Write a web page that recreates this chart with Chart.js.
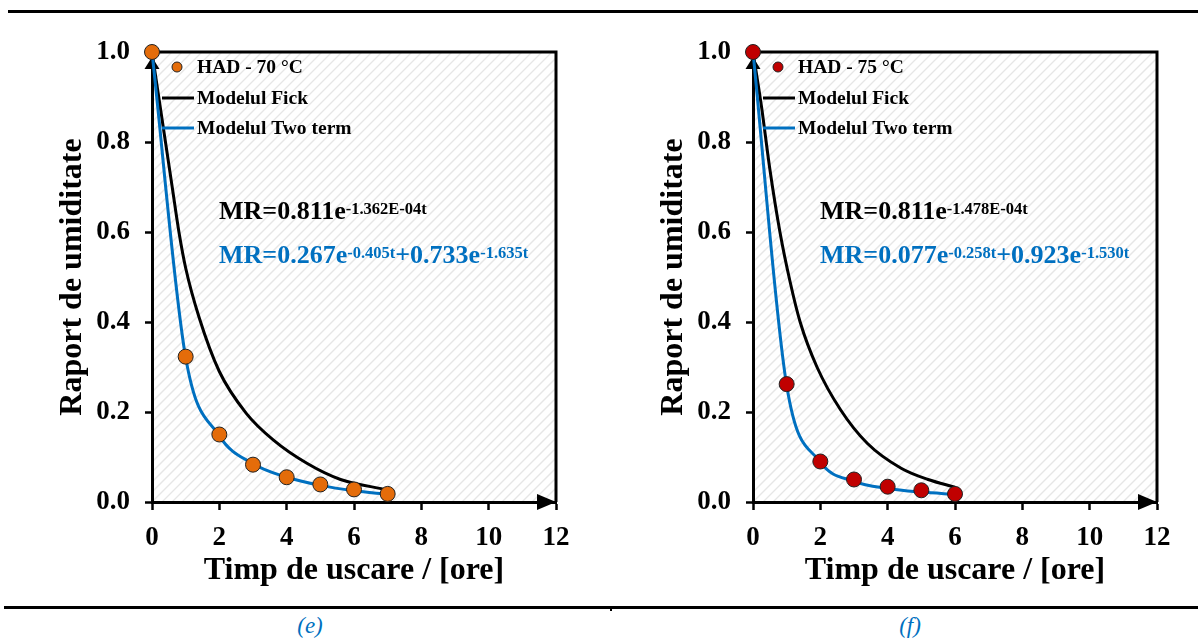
<!DOCTYPE html>
<html>
<head>
<meta charset="utf-8">
<script src="https://cdn.jsdelivr.net/npm/chart.js@4.4.1/dist/chart.umd.min.js"></script>
<style>
  body { margin: 0; background: #fff; width: 1198px; height: 644px; position: relative; overflow: hidden;
         font-family: 'Liberation Serif', 'Times New Roman', serif; }
  .rule { position: absolute; background: #000; }
  .box { position: absolute; top: 0; width: 600px; height: 600px; }
  .cap { position: absolute; top: 613px; width: 60px; text-align: center; font-style: italic;
         font-size: 23px; color: #0070C0; }
</style>
</head>
<body>
<div class="rule" style="left:8px;top:10px;width:1190px;height:3px"></div>
<div class="rule" style="left:4px;top:606px;width:1194px;height:3px"></div>
<div class="rule" style="left:610px;top:609px;width:2px;height:2px"></div>
<div class="box" style="left:0"><canvas id="chartE" width="600" height="600"></canvas></div>
<div class="box" style="left:601px"><canvas id="chartF" width="600" height="600"></canvas></div>
<div class="cap" style="left:280px">(e)</div>
<div class="cap" style="left:880px">(f)</div>
<script>
const SERIF = "'Liberation Serif', 'Times New Roman', serif";
const BLUE = '#0070C0';

// (e) HAD - 70 °C
const hoursE = [0, 1, 2, 3, 4, 5, 6, 7];
const hadE = [1.0, 0.323, 0.150, 0.083, 0.055, 0.039, 0.028, 0.018];
const twoTermE = [1.0, 0.321, 0.147, 0.085, 0.055, 0.037, 0.025, 0.017];
const fickTimeE = [0, 0.4, 0.6, 0.8, 1.0, 1.4, 2.0, 2.8, 3.6, 4.6, 5.6, 7.0];
const fickE = [1.0, 0.80, 0.70, 0.60, 0.52, 0.41, 0.29, 0.197, 0.138, 0.086, 0.050, 0.027];

// (f) HAD - 75 °C
const hoursF = [0, 1, 2, 3, 4, 5, 6];
const hadF = [1.0, 0.262, 0.090, 0.050, 0.034, 0.026, 0.018];
const twoTermF = [1.0, 0.259, 0.089, 0.046, 0.030, 0.022, 0.017];
const fickTimeF = [0, 0.25, 0.5, 0.8, 1.1, 1.4, 1.9, 2.6, 3.4, 4.4, 5.2, 6.0];
const fickF = [1.0, 0.88, 0.74, 0.60, 0.49, 0.40, 0.30, 0.205, 0.130, 0.075, 0.050, 0.033];

const fickEqE = [['MR=0.811e', false], ['-1.362E-04t', true]];
const twoEqE = [['MR=0.267e', false], ['-0.405t', true], ['+0.733e', false], ['-1.635t', true]];
const fickEqF = [['MR=0.811e', false], ['-1.478E-04t', true]];
const twoEqF = [['MR=0.077e', false], ['-0.258t', true], ['+0.923e', false], ['-1.530t', true]];

function xy(ts, vs) {
  return ts.map((t, i) => ({x: t, y: vs[i]}));
}

// light diagonal stripes behind the plot
const hatch = {
  id: 'hatch',
  beforeDraw(chart) {
    const {ctx, chartArea: a} = chart;
    ctx.save();
    ctx.beginPath();
    ctx.rect(a.left, a.top, a.right - a.left, a.bottom - a.top);
    ctx.clip();
    ctx.strokeStyle = '#e6e6e6';
    ctx.lineWidth = 1.3;
    const h = a.bottom - a.top;
    for (let k = -h; k < a.right - a.left; k += 10) {
      ctx.beginPath();
      ctx.moveTo(a.left + k, a.bottom);
      ctx.lineTo(a.left + k + h, a.top);
      ctx.stroke();
    }
    ctx.restore();
  }
};

// top/right border and the arrow heads
const frame = {
  id: 'frame',
  beforeDatasetsDraw(chart) {
    const {ctx, chartArea: a} = chart;
    ctx.save();
    ctx.strokeStyle = '#000';
    ctx.lineWidth = 3;
    ctx.beginPath();
    ctx.moveTo(a.left - 1.5, a.top);
    ctx.lineTo(a.right, a.top);
    ctx.lineTo(a.right, a.bottom);
    ctx.stroke();
    ctx.fillStyle = '#000';
    ctx.beginPath();
    ctx.moveTo(a.left, a.top + 5);
    ctx.lineTo(a.left - 7.5, a.top + 17);
    ctx.lineTo(a.left + 7.5, a.top + 17);
    ctx.closePath();
    ctx.fill();
    ctx.beginPath();
    ctx.moveTo(a.right, a.bottom);
    ctx.lineTo(a.right - 19, a.bottom - 8);
    ctx.lineTo(a.right - 19, a.bottom + 8);
    ctx.closePath();
    ctx.fill();
    ctx.restore();
  }
};

function drawEquation(ctx, x, y, parts, color) {
  let cx = x;
  ctx.fillStyle = color;
  ctx.textAlign = 'left';
  ctx.textBaseline = 'alphabetic';
  parts.forEach(([txt, sup]) => {
    ctx.font = sup ? `bold 16.5px ${SERIF}` : `bold 26px ${SERIF}`;
    ctx.fillText(txt, cx, sup ? y - 5 : y);
    cx += ctx.measureText(txt).width;
  });
}

// legend entries and the model equations
const notes = {
  id: 'notes',
  afterDatasetsDraw(chart, args, opts) {
    const {ctx, chartArea: a} = chart;
    ctx.save();
    ctx.font = `bold 19.5px ${SERIF}`;
    ctx.textBaseline = 'middle';
    ctx.beginPath();
    ctx.arc(a.left + 25, a.top + 15, 5, 0, Math.PI * 2);
    ctx.fillStyle = opts.markerColor;
    ctx.fill();
    ctx.lineWidth = 1;
    ctx.strokeStyle = '#222';
    ctx.stroke();
    ctx.fillStyle = '#000';
    ctx.fillText(opts.hadLabel, a.left + 45, a.top + 16);
    ctx.lineWidth = 3;
    [['#000', 'Modelul Fick', 46], [BLUE, 'Modelul Two term', 76]].forEach(([c, txt, dy]) => {
      ctx.strokeStyle = c;
      ctx.beginPath();
      ctx.moveTo(a.left + 10, a.top + dy);
      ctx.lineTo(a.left + 42, a.top + dy);
      ctx.stroke();
      ctx.fillStyle = '#000';
      ctx.fillText(txt, a.left + 45, a.top + dy + 1);
    });
    drawEquation(ctx, a.left + 67, a.top + 167, opts.fickEq, '#000');
    drawEquation(ctx, a.left + 67, a.top + 211, opts.twoEq, BLUE);
    ctx.restore();
  }
};

function makeChart(id, cfg) {
  const tickFont = {family: SERIF, size: 27, weight: 'bold'};
  const titleFont = {family: SERIF, size: 32, weight: 'bold', lineHeight: 1};
  return new Chart(document.getElementById(id), {
    type: 'line',
    data: {
      datasets: [
        {
          label: cfg.hadLabel,
          data: xy(cfg.hours, cfg.had),
          showLine: false,
          pointRadius: 7.5,
          pointBackgroundColor: cfg.markerColor,
          pointBorderColor: '#222',
          pointBorderWidth: 1,
          clip: false
        },
        {
          label: 'Modelul Two term',
          data: xy(cfg.hours, cfg.twoTerm),
          borderColor: BLUE,
          borderWidth: 3,
          pointRadius: 0,
          cubicInterpolationMode: 'monotone',
          clip: false
        },
        {
          label: 'Modelul Fick',
          data: xy(cfg.fickTime, cfg.fick),
          borderColor: '#000',
          borderWidth: 3,
          pointRadius: 0,
          cubicInterpolationMode: 'monotone',
          clip: false
        }
      ]
    },
    options: {
      responsive: false,
      animation: false,
      devicePixelRatio: 1,
      layout: {padding: {top: 52, right: 44, left: 0, bottom: 0}},
      plugins: {
        legend: {display: false},
        tooltip: {enabled: false},
        notes: cfg
      },
      scales: {
        x: {
          type: 'linear',
          min: 0,
          max: 12,
          ticks: {stepSize: 2, font: tickFont, color: '#000', padding: 12, maxRotation: 0},
          grid: {drawOnChartArea: false, color: '#000', tickLength: 8, tickWidth: 2.5},
          border: {color: '#000', width: 3},
          title: {display: true, text: 'Timp de uscare / [ore]', font: titleFont, color: '#000',
                  padding: {top: 0, bottom: 13}},
          afterFit(s) { s.height = 98; }
        },
        y: {
          min: 0,
          max: 1,
          ticks: {stepSize: 0.2, font: tickFont, color: '#000', padding: 15,
                  callback: v => v.toFixed(1)},
          grid: {drawOnChartArea: false, color: '#000', tickLength: 7, tickWidth: 2.5},
          border: {color: '#000', width: 3},
          title: {display: true, text: 'Raport de umiditate', font: titleFont, color: '#000',
                  padding: {top: 57, bottom: 0}},
          afterFit(s) { s.width = 152; }
        }
      }
    },
    plugins: [hatch, frame, notes]
  });
}

makeChart('chartE', {
  hours: hoursE, had: hadE, twoTerm: twoTermE, fickTime: fickTimeE, fick: fickE,
  hadLabel: 'HAD - 70 °C', markerColor: '#E46C0A', fickEq: fickEqE, twoEq: twoEqE
});
makeChart('chartF', {
  hours: hoursF, had: hadF, twoTerm: twoTermF, fickTime: fickTimeF, fick: fickF,
  hadLabel: 'HAD - 75 °C', markerColor: '#C00000', fickEq: fickEqF, twoEq: twoEqF
});
</script>
</body>
</html>
